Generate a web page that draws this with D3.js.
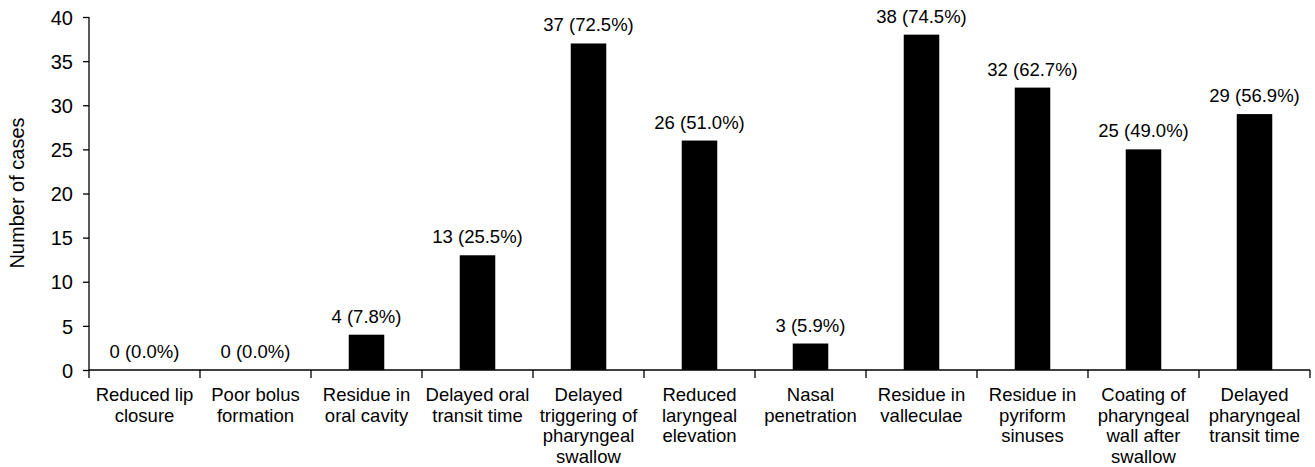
<!DOCTYPE html>
<meta charset="utf-8">
<style>
    body { margin: 0; background: #fff; }
    svg text { font-family: "Liberation Sans", Arial, sans-serif; fill: #000; }
</style>
<script src="https://d3js.org/d3.v7.min.js"></script>
<svg id="chart" width="1315" height="467"></svg>
<script>

// data (51 patients in total)
var categories = [
    ["Reduced lip", "closure"],
    ["Poor bolus", "formation"],
    ["Residue in", "oral cavity"],
    ["Delayed oral", "transit time"],
    ["Delayed", "triggering of", "pharyngeal", "swallow"],
    ["Reduced", "laryngeal", "elevation"],
    ["Nasal", "penetration"],
    ["Residue in", "valleculae"],
    ["Residue in", "pyriform", "sinuses"],
    ["Coating of", "pharyngeal", "wall after", "swallow"],
    ["Delayed", "pharyngeal", "transit time"]
];
var cases = [0, 0, 4, 13, 37, 26, 3, 38, 32, 25, 29];
var percents = ["0.0", "0.0", "7.8", "25.5", "72.5", "51.0", "5.9", "74.5", "62.7", "49.0", "56.9"];
var yTicks = [0, 5, 10, 15, 20, 25, 30, 35, 40];

var svg = d3.select("#chart"),
    mLeft = 89, mRight = 1310, mTop = 17, mBottom = 370;

var x = d3.scaleBand()
    .domain(d3.range(cases.length))
    .range([mLeft, mRight])
    .paddingInner(0.68)
    .paddingOuter(0.34);

// band used for the category ticks (no padding)
var xc = d3.scaleBand()
    .domain(d3.range(cases.length))
    .range([mLeft, mRight]);

var y = d3.scaleLinear()
    .domain([0, 40])
    .range([mBottom, mTop]);

// bars
svg.append("g")
    .selectAll("rect")
    .data(cases)
    .enter().append("rect")
        .attr("x", function(d, i) { return x(i); })
        .attr("width", x.bandwidth())
        .attr("y", function(d) { return y(d); })
        .attr("height", function(d) { return mBottom - y(d); })
        .attr("fill", "#000");

// value labels
svg.append("g")
    .selectAll("text")
    .data(cases)
    .enter().append("text")
        .attr("x", function(d, i) { return xc(i) + xc.bandwidth() / 2; })
        .attr("y", function(d) { return y(d) - 12; })
        .attr("text-anchor", "middle")
        .style("font-size", "18.5px")
        .text(function(d, i) { return d + " (" + percents[i] + "%)"; });

// y axis
var yAxis = svg.append("g")
    .attr("transform", "translate(" + mLeft + ",0)")
    .call(d3.axisLeft(y).tickValues(yTicks).tickSize(6).tickPadding(10));
yAxis.selectAll("text").style("font-size", "20px").attr("dy", "0.36em");
yAxis.selectAll("line, path").attr("stroke", "#000").attr("stroke-width", 1.3);
yAxis.select(".domain").attr("d", "M0," + mTop + "V" + mBottom);

// x axis line with category ticks
var xAxis = svg.append("g").attr("transform", "translate(0," + mBottom + ")");
xAxis.append("line")
    .attr("x1", mLeft).attr("x2", mRight)
    .attr("stroke", "#000").attr("stroke-width", 1.3);
xAxis.selectAll(".tk")
    .data(d3.range(cases.length + 1))
    .enter().append("line")
        .attr("class", "tk")
        .attr("x1", function(i) { return i < cases.length ? xc(i) : mRight; })
        .attr("x2", function(i) { return i < cases.length ? xc(i) : mRight; })
        .attr("y1", 0).attr("y2", 8)
        .attr("stroke", "#000").attr("stroke-width", 1.3);

// category labels
var labels = svg.append("g")
    .selectAll("text")
    .data(categories)
    .enter().append("text")
        .attr("text-anchor", "middle")
        .style("font-size", "18.5px")
        .attr("transform", function(d, i) {
            return "translate(" + (xc(i) + xc.bandwidth() / 2) + ",401)";
        });
labels.selectAll("tspan")
    .data(function(d) { return d; })
    .enter().append("tspan")
        .attr("x", 0)
        .attr("y", function(d, j) { return j * 20.6; })
        .text(function(d) { return d; });

// y axis title
svg.append("text")
    .attr("transform", "translate(24,193) rotate(-90)")
    .attr("text-anchor", "middle")
    .style("font-size", "20px")
    .text("Number of cases");

</script>
